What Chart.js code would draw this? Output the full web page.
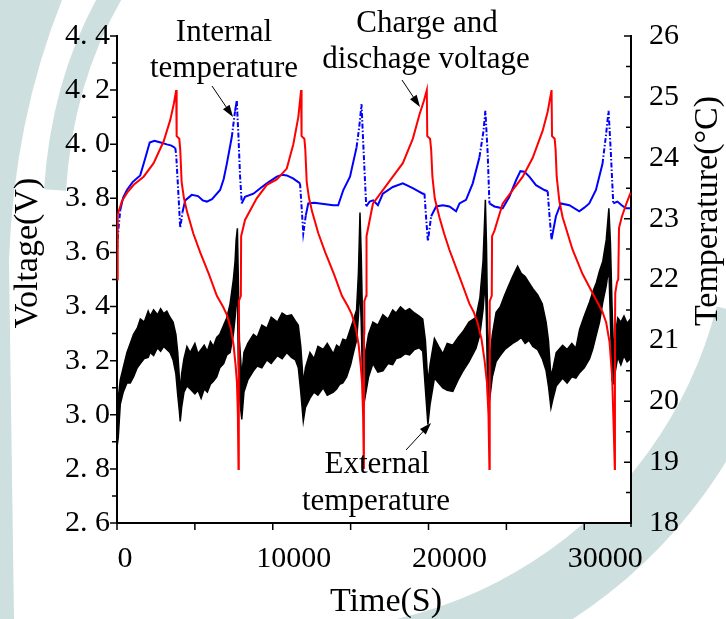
<!DOCTYPE html>
<html>
<head>
<meta charset="utf-8">
<script src="https://cdn.jsdelivr.net/npm/chart.js@4"></script>
<style>
  html, body { margin: 0; padding: 0; background: #fff; }
  canvas { display: block; }
</style>
</head>
<body>
<canvas id="chart" width="726" height="619"></canvas>
<script>
// charge / discharge voltage (V), red
const voltTime = [0,30,60,320,640,1070,1710,2350,2990,3420,3650,3800,
  3830,4000,4060,4150,4300,4500,4900,5340,5900,6410,6800,7050,7300,7480,7620,7700,7760,7800,
  7810,7830,7950,7970,8220,8970,9620,10260,10900,11320,11640,11820,
  11850,12030,12090,12180,12330,12530,12930,13370,13930,14440,14830,15080,15330,15510,15650,15730,15800,15850,
  15860,15880,16000,16020,16430,17070,17710,18350,18990,19420,19700,19890,
  19920,20100,20170,20250,20400,20700,21000,21340,21990,22630,22900,23150,23400,23600,23750,23850,23910,
  23920,23940,24060,24080,24230,24760,25400,26050,26690,27330,27650,27900,
  27930,28100,28160,28230,28400,28610,29250,29890,30530,31170,31410,31620,31790,31900,31960,
  31970,31990,32100,32180,32230,32400,32700,32970];
const voltValue = [3.50,3.70,3.74,3.79,3.82,3.85,3.88,3.93,4.01,4.09,4.15,4.20,
  4.03,4.02,3.98,3.86,3.80,3.75,3.67,3.60,3.52,3.44,3.40,3.37,3.32,3.26,3.18,3.12,3.00,2.80,
  3.30,3.42,3.44,3.66,3.72,3.80,3.85,3.87,3.91,4.00,4.10,4.20,
  4.03,4.02,3.98,3.86,3.80,3.75,3.67,3.60,3.52,3.44,3.40,3.37,3.32,3.26,3.18,3.12,3.00,2.80,
  3.30,3.42,3.44,3.66,3.78,3.83,3.88,3.93,4.02,4.11,4.16,4.20,
  4.03,4.02,3.98,3.88,3.80,3.73,3.67,3.61,3.51,3.41,3.38,3.34,3.28,3.20,3.12,3.00,2.80,
  3.30,3.42,3.44,3.66,3.68,3.78,3.83,3.88,3.95,4.05,4.12,4.20,
  4.03,4.02,3.98,3.88,3.79,3.73,3.61,3.52,3.45,3.38,3.34,3.27,3.14,2.93,2.80,
  3.30,3.45,3.49,3.50,3.69,3.73,3.78,3.82];

// internal temperature (°C), blue
const intTime = [0,100,210,400,640,1000,1490,1800,2100,2400,2800,3200,3500,3740,3800,3900,4060,4200,4380,4800,5200,5500,5770,6100,6620,6850,7050,7370,7580,7690,7800,7900,8010,
  8220,8760,9200,9620,10260,10600,10900,11300,11640,11750,11850,11960,12120,12280,12650,13030,13880,14200,14530,14960,15380,15550,15700,15780,15900,16000,
  16220,16450,16750,17070,17710,18350,18990,19630,19740,19850,19960,20170,20490,20920,21340,21770,21990,22410,22840,23270,23530,23650,23800,23910,
  24230,24760,25190,25620,25900,26150,26470,26900,27440,27650,27780,27900,28180,28500,29040,29680,30000,30320,30750,31170,31380,31560,31710,31860,
  32130,32400,32670,32970];
const intTemp = [22.49,22.85,23.14,23.35,23.47,23.60,23.71,23.98,24.25,24.28,24.25,24.22,24.20,24.16,24.05,23.60,22.85,23.10,23.30,23.39,23.37,23.30,23.28,23.32,23.47,23.65,23.90,24.34,24.77,24.93,24.34,23.70,23.25,
  23.36,23.41,23.50,23.58,23.69,23.72,23.71,23.66,23.60,23.58,23.20,22.76,23.05,23.25,23.26,23.25,23.22,23.22,23.47,23.69,24.17,24.50,24.88,24.40,23.74,23.20,
  23.28,23.30,23.22,23.41,23.52,23.58,23.50,23.41,23.41,23.00,22.63,23.04,23.20,23.22,23.20,23.12,23.25,23.31,23.58,24.01,24.44,24.77,24.06,23.25,
  23.20,23.17,23.36,23.63,23.78,23.77,23.69,23.55,23.47,23.45,23.00,22.66,23.04,23.25,23.22,23.12,23.18,23.25,23.47,23.90,24.34,24.77,24.06,23.25,
  23.28,23.22,23.17,23.17];

// external temperature (°C), black noisy band: upper and lower edges
const extTime = [0,80,210,400,640,850,1060,1300,1500,1750,2000,2130,2350,2600,2800,3000,3200,3400,3600,3780,3900,4000,4060,4150,4300,4490,4700,5000,5200,5400,5600,5800,6000,6190,6400,6600,6850,7050,7260,7470,7580,7650,7730,7790,7860,8010,
  8150,8400,8760,9000,9300,9620,9900,10300,10600,10900,11200,11450,11640,11800,11960,12100,12390,12650,12900,13240,13500,13890,14100,14300,14500,14740,15000,15200,15380,15500,15600,15680,15760,15850,
  15950,16150,16430,16750,17070,17400,17700,17920,18200,18500,18780,19100,19400,19630,19800,19960,20100,20380,20650,20920,21200,21560,21900,22200,22600,23050,23300,23500,23650,23720,23800,23910,
  24100,24340,24600,24900,25150,25400,25720,25950,26200,26450,26700,27000,27300,27550,27700,27860,28000,28200,28610,28900,29200,29460,29700,30000,30340,30550,30780,30980,31190,31410,31580,31680,31790,31870,32000,32150,32350,32550,32750,32970];
const extUpper = [19.70,20.05,20.35,20.55,20.80,20.95,21.10,21.20,21.35,21.30,21.48,21.40,21.50,21.42,21.52,21.44,21.48,21.38,21.30,21.10,20.80,20.40,20.15,20.45,20.70,20.90,20.80,20.95,20.78,20.85,20.92,20.82,20.98,20.90,21.05,21.10,21.25,21.37,21.60,22.00,22.30,22.65,22.84,22.00,21.00,20.40,
  20.80,20.95,21.10,21.05,21.25,21.20,21.38,21.30,21.45,21.40,21.42,21.32,21.25,20.90,20.30,20.55,20.80,20.70,20.90,20.85,20.95,20.78,20.92,20.88,21.02,21.00,21.20,21.35,21.50,22.10,23.10,22.40,21.40,20.70,
  20.80,21.10,21.30,21.25,21.42,21.35,21.50,21.45,21.55,21.48,21.52,21.45,21.40,21.35,21.00,20.30,20.60,21.03,20.90,20.78,20.95,20.92,21.05,21.14,21.30,21.38,21.70,22.30,23.31,22.60,21.20,20.60,
  21.10,21.46,21.55,21.75,21.90,22.05,22.22,22.10,22.05,21.95,21.85,21.75,21.60,21.30,21.00,20.40,20.55,20.80,20.92,20.85,20.95,20.87,21.18,21.40,21.63,21.80,21.95,22.14,22.30,22.65,23.17,22.60,21.50,20.90,21.10,21.37,21.30,21.40,21.28,21.35];
const extLower = [19.25,19.40,19.95,20.15,20.30,20.30,20.40,20.55,20.62,20.70,20.72,20.80,20.75,20.88,20.82,20.90,20.85,20.80,20.68,20.45,20.10,19.85,19.67,19.90,20.15,20.25,20.20,20.12,20.18,20.05,20.20,20.15,20.28,20.33,20.40,20.55,20.62,20.76,20.80,21.10,21.37,21.60,21.80,20.60,20.08,19.70,
  20.15,20.35,20.50,20.58,20.55,20.68,20.62,20.75,20.70,20.80,20.72,20.68,20.55,20.15,19.67,19.90,20.05,20.15,20.10,20.22,20.10,20.15,20.20,20.28,20.30,20.40,20.60,20.82,21.00,21.40,21.90,21.30,20.40,19.95,
  20.10,20.40,20.62,20.48,20.50,20.62,20.60,20.70,20.72,20.78,20.76,20.85,20.88,20.82,20.20,19.62,19.95,20.38,20.30,20.22,20.18,20.16,20.35,20.49,20.65,20.87,21.10,21.50,22.00,21.30,20.10,20.00,
  20.40,20.65,20.75,20.85,20.90,20.95,21.00,21.05,20.95,21.00,20.90,20.85,20.70,20.50,20.25,19.89,20.05,20.25,20.38,20.30,20.40,20.38,20.47,20.55,20.70,20.86,21.10,21.30,21.63,21.90,22.20,21.30,20.34,20.30,20.50,20.73,20.60,20.75,20.65,20.70];

// ticks and tick labels
const xTicks = [0,5000,10000,15000,20000,25000,30000,33000];
const xTickLabels = [0,10000,20000,30000];
const yTicks = [2.6,2.7,2.8,2.9,3.0,3.1,3.2,3.3,3.4,3.5,3.6,3.7,3.8,3.9,4.0,4.1,4.2,4.3,4.4];
const y1Ticks = [18,18.5,19,19.5,20,20.5,21,21.5,22,22.5,23,23.5,24,24.5,25,25.5,26];

const pts = (xs, ys) => xs.map((x, i) => ({ x: x, y: ys[i] }));
const serif = "'Liberation Serif', 'Times New Roman', serif";

Chart.defaults.font.family = serif;
Chart.defaults.color = '#000';

// watermark behind the figure, plot area stays white
const backdrop = {
  id: 'backdrop',
  beforeDraw(chart) {
    const ctx = chart.ctx, a = chart.chartArea;
    ctx.save();
    ctx.fillStyle = '#fff';
    ctx.fillRect(0, 0, chart.width, chart.height);
    ctx.fillStyle = '#cddfde';
    // lower right crescent
    ctx.beginPath();
    ctx.arc(300, 200, 500, 0.25, 1.75);
    ctx.arc(300, 200, 430, 1.75, 0.25, true);
    ctx.closePath();
    ctx.fill();
    // left outer band
    ctx.beginPath();
    ctx.moveTo(0, 0);
    ctx.lineTo(62, 0);
    ctx.quadraticCurveTo(14, 120, 9, 260);
    ctx.lineTo(14, 619);
    ctx.lineTo(0, 619);
    ctx.closePath();
    ctx.fill();
    // left inner band
    ctx.strokeStyle = '#cddfde';
    ctx.lineWidth = 22;
    ctx.beginPath();
    ctx.moveTo(112, -6);
    ctx.quadraticCurveTo(62, 80, 55, 190);
    ctx.stroke();
    ctx.fillStyle = '#fff';
    ctx.fillRect(a.left, a.top, a.right - a.left, a.bottom - a.top);
    ctx.restore();
  }
};

function arrow(ctx, x1, y1, x2, y2) {
  const ang = Math.atan2(y2 - y1, x2 - x1);
  const len = 12, half = 4;
  ctx.beginPath();
  ctx.moveTo(x1, y1);
  ctx.lineTo(x2 - Math.cos(ang) * len * 0.8, y2 - Math.sin(ang) * len * 0.8);
  ctx.stroke();
  ctx.beginPath();
  ctx.moveTo(x2, y2);
  ctx.lineTo(x2 - Math.cos(ang) * len - Math.sin(ang) * half, y2 - Math.sin(ang) * len + Math.cos(ang) * half);
  ctx.lineTo(x2 - Math.cos(ang) * len + Math.sin(ang) * half, y2 - Math.sin(ang) * len - Math.cos(ang) * half);
  ctx.closePath();
  ctx.fill();
}

// tick marks (left/bottom outward, right inward), x labels, titles and notes
const decorations = {
  id: 'decorations',
  afterDraw(chart) {
    const ctx = chart.ctx, a = chart.chartArea, s = chart.scales;
    ctx.save();
    ctx.strokeStyle = '#000';
    ctx.fillStyle = '#000';
    ctx.lineWidth = 1.5;
    ctx.beginPath();
    s.x.ticks.forEach(t => {
      const px = s.x.getPixelForValue(t.value);
      const len = t.value % 5000 === 0 ? 7 : 4;
      ctx.moveTo(px, a.bottom);
      ctx.lineTo(px, a.bottom + len);
    });
    s.y.ticks.forEach(t => {
      const py = s.y.getPixelForValue(t.value);
      const len = Math.round(t.value * 10) % 2 === 0 ? 7 : 5;
      ctx.moveTo(a.left, py);
      ctx.lineTo(a.left - len, py);
    });
    s.y1.ticks.forEach(t => {
      const py = s.y1.getPixelForValue(t.value);
      const len = Number.isInteger(t.value) ? 7 : 5;
      ctx.moveTo(a.right, py);
      ctx.lineTo(a.right - len, py);
    });
    ctx.stroke();

    // x tick labels sit a little right of their ticks in the original
    ctx.font = '30px ' + serif;
    ctx.textAlign = 'center';
    ctx.textBaseline = 'alphabetic';
    xTickLabels.forEach(v => {
      const px = s.x.getPixelForValue(v);
      ctx.fillText(String(v), px + (v === 0 ? 8 : 21), 567);
    });

    // axis titles
    ctx.font = '34px ' + serif;
    ctx.fillText('Time(S)', 386, 611);
    ctx.save();
    ctx.translate(37, 253);
    ctx.rotate(-Math.PI / 2);
    ctx.fillText('Voltage(V)', 0, 0);
    ctx.restore();
    ctx.save();
    ctx.translate(717, 211);
    ctx.rotate(-Math.PI / 2);
    ctx.fillText('Temperature(°C)', 0, 0);
    ctx.restore();

    // annotations
    ctx.font = '31px ' + serif;
    ctx.fillText('Internal', 224, 41);
    ctx.fillText('temperature', 224, 77);
    ctx.fillText('Charge and', 427, 32);
    ctx.fillText('dischage voltage', 426, 68);
    ctx.fillText('External', 377, 473);
    ctx.fillText('temperature', 376, 510);

    ctx.lineWidth = 1;
    arrow(ctx, 212, 86, 233, 117);
    arrow(ctx, 402, 80, 420, 107);
    arrow(ctx, 406, 450, 431, 423);
    ctx.restore();
  }
};

const ctx = document.getElementById('chart').getContext('2d');
const myChart = new Chart(ctx, {
  type: 'line',
  data: {
    datasets: [
      {
        label: 'Charge and dischage voltage',
        data: pts(voltTime, voltValue),
        yAxisID: 'y',
        borderColor: '#ff0000',
        borderWidth: 2,
        pointRadius: 0,
        fill: false
      },
      {
        label: 'Internal temperature',
        data: pts(intTime, intTemp),
        yAxisID: 'y1',
        borderColor: '#0000ff',
        borderWidth: 2,
        pointRadius: 0,
        fill: false,
        segment: {
          borderDash: c => Math.abs(c.p1.parsed.y - c.p0.parsed.y) / (c.p1.parsed.x - c.p0.parsed.x) > 0.0016 ? [5, 2, 1.5, 2] : undefined
        }
      },
      {
        label: 'External temperature',
        data: pts(extTime, extUpper),
        yAxisID: 'y1',
        borderColor: '#000',
        backgroundColor: '#000',
        borderWidth: 1.5,
        pointRadius: 0,
        fill: '+1'
      },
      {
        label: 'External temperature (low)',
        data: pts(extTime, extLower),
        yAxisID: 'y1',
        borderColor: '#000',
        borderWidth: 1.5,
        pointRadius: 0,
        fill: false
      }
    ]
  },
  options: {
    responsive: false,
    animation: false,
    devicePixelRatio: 1,
    layout: { padding: { top: 30, left: 0, right: 0, bottom: 0 } },
    plugins: { legend: { display: false }, tooltip: { enabled: false } },
    scales: {
      x: {
        type: 'linear',
        min: 0,
        max: 33000,
        afterBuildTicks: sc => { sc.ticks = xTicks.map(v => ({ value: v })); },
        afterFit: sc => { sc.height = 96; },
        border: { color: '#000', width: 2 },
        grid: { drawOnChartArea: false, drawTicks: false },
        ticks: {
          autoSkip: false,
          maxRotation: 0,
          padding: 16,
          font: { size: 30 },
          callback: () => ''
        }
      },
      y: {
        position: 'left',
        min: 2.6,
        max: 4.4,
        afterBuildTicks: sc => { sc.ticks = yTicks.map(v => ({ value: v })); },
        afterFit: sc => { sc.width = 117; },
        border: { color: '#000', width: 2 },
        grid: { drawOnChartArea: false, drawTicks: false },
        ticks: {
          autoSkip: false,
          padding: 7,
          font: { size: 30 },
          callback: v => Math.round(v * 10) % 2 === 0 ? v.toFixed(1).replace('.', '. ') : ''
        }
      },
      y1: {
        position: 'right',
        min: 18,
        max: 26,
        afterBuildTicks: sc => { sc.ticks = y1Ticks.map(v => ({ value: v })); },
        afterFit: sc => { sc.width = 95; },
        border: { color: '#000', width: 2 },
        grid: { drawOnChartArea: false, drawTicks: false },
        ticks: {
          autoSkip: false,
          padding: 18,
          font: { size: 30 },
          callback: v => Number.isInteger(v) ? String(v) : ''
        }
      }
    }
  },
  plugins: [backdrop, decorations]
});
</script>
</body>
</html>
